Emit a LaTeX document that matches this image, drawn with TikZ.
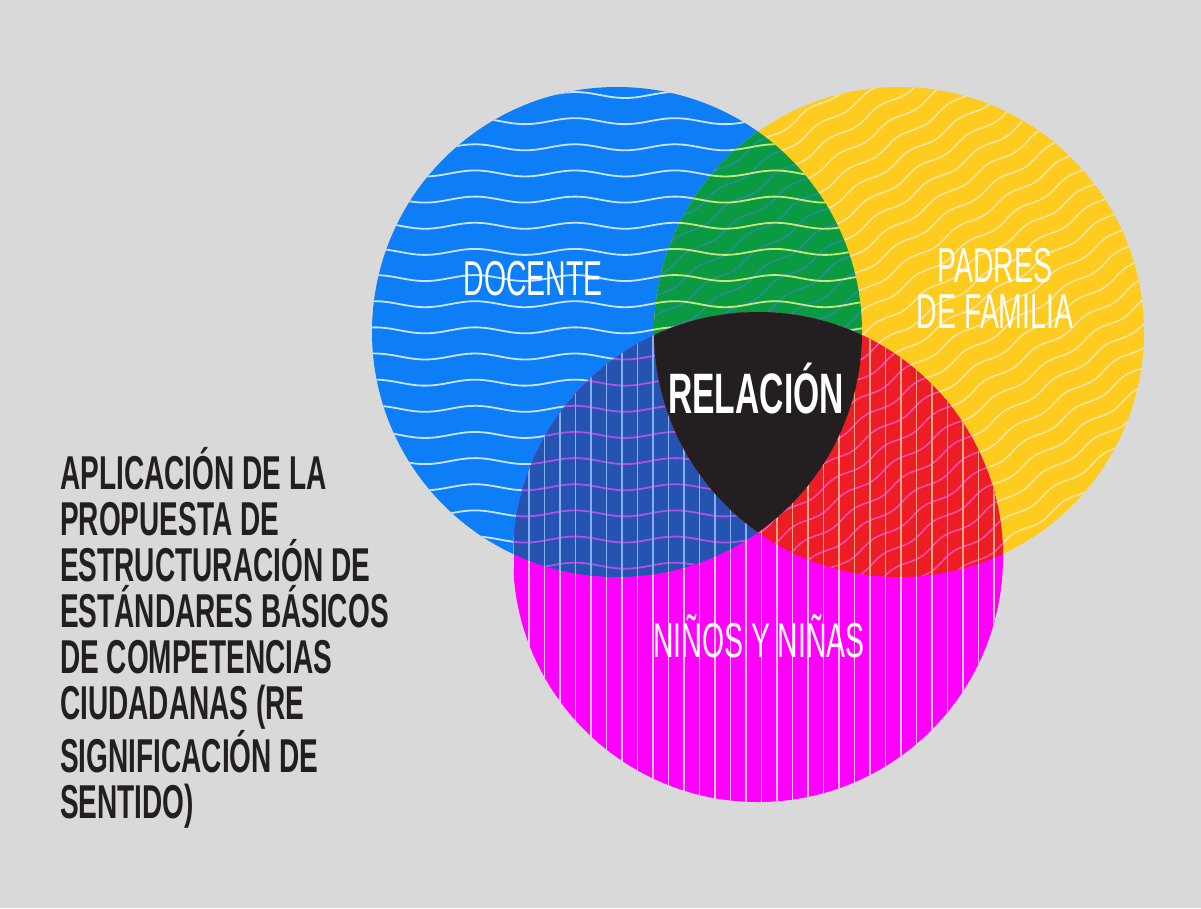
\documentclass[tikz,border=0pt]{standalone}
\usepackage{fontspec}
\newfontfamily\labelfont{Liberation Sans}[FakeStretch=0.58]
\newfontfamily\titlefont{Liberation Sans}[FakeStretch=0.59]
\definecolor{bgc}{HTML}{D9D9D9}
\definecolor{cblue}{HTML}{0D7EF5}
\definecolor{cyellow}{HTML}{FDCC1E}
\definecolor{cmag}{HTML}{FF00FF}
\definecolor{cgreen}{HTML}{0A9A42}
\definecolor{cdblue}{HTML}{2453B0}
\definecolor{cred}{HTML}{EE1C24}
\definecolor{cblack}{HTML}{231F20}
\definecolor{bluewave}{HTML}{C9E2FF}
\definecolor{yelwave}{HTML}{F6E3A6}
\definecolor{magline}{HTML}{FFC4FF}
\definecolor{greenwave}{HTML}{C4E87C}
\definecolor{greendiag}{HTML}{2A8C9A}
\definecolor{dbwave}{HTML}{B050E8}
\definecolor{dbline}{HTML}{86AEF2}
\definecolor{redwave}{HTML}{FF50B4}
\definecolor{redline}{HTML}{F8A880}
\newcommand\hwaves[1]{%
  \foreach \k in {-1,...,28} {%
    \draw[#1, line width=1.8pt] plot[smooth, samples=90, domain=360:1160] (\x, {95+26.15*\k + 3*sin(\x*3.6)});
  }}
\newcommand\dwaves[1]{%
  \begin{scope}[rotate around={33:(899,332)}]
  \foreach \k in {-26,...,26} {%
    \draw[#1, line width=1.5pt] plot[smooth, samples=140, domain=380:1420] (\x, {332+18*\k + 2.5*sin(\x*6)});
  }
  \end{scope}}
\newcommand\vlines[1]{%
  \foreach \k in {0,...,32} {%
    \draw[#1, line width=1.4pt] ({513.5+15.5*\k},300) -- ({513.5+15.5*\k},820);
  }}
\tikzset{
  lbl/.style={text=white, inner sep=0pt, font=\labelfont\fontsize{49}{46}\selectfont},
  boldlbl/.style={text=white, inner sep=0pt, font=\titlefont\bfseries\fontsize{57}{57}\selectfont},
  title/.style={text=cblack, inner sep=0pt, align=left, font=\titlefont\bfseries\fontsize{47.5}{46}\selectfont}
}
\begin{document}
\begin{tikzpicture}[x=1pt,y=-1pt]
\useasboundingbox (0,0) rectangle (1201,908);
\fill[bgc] (0,0) rectangle (1201,908);
% blue circle
\fill[cblue] (617,332) circle[radius=245];
\begin{scope}
  \clip (617,332) circle[radius=245];
  \hwaves{bluewave}
\end{scope}
% yellow circle
\fill[cyellow] (899,332) circle[radius=245];
\begin{scope}
  \clip (899,332) circle[radius=245];
  \dwaves{yelwave}
\end{scope}
% magenta circle
\fill[cmag] (758,557) circle[radius=245];
\begin{scope}
  \clip (758,557) circle[radius=245];
  \vlines{magline}
\end{scope}
% green: blue and yellow
\begin{scope}
  \clip (617,332) circle[radius=245];
  \clip (899,332) circle[radius=245];
  \fill[cgreen] (300,0) rectangle (1200,900);
  \dwaves{greendiag}
  \hwaves{greenwave}
\end{scope}
% dark blue: blue and magenta
\begin{scope}
  \clip (617,332) circle[radius=245];
  \clip (758,557) circle[radius=245];
  \fill[cdblue] (300,0) rectangle (1200,900);
  \hwaves{dbwave}
  \vlines{dbline}
\end{scope}
% red: yellow and magenta
\begin{scope}
  \clip (899,332) circle[radius=245];
  \clip (758,557) circle[radius=245];
  \fill[cred] (300,0) rectangle (1200,900);
  \dwaves{redwave}
  \vlines{redline}
\end{scope}
% black: all three
\begin{scope}
  \clip (617,332) circle[radius=245];
  \clip (899,332) circle[radius=245];
  \clip (758,557) circle[radius=245];
  \fill[cblack] (300,0) rectangle (1200,900);
\end{scope}
% labels
\node[lbl, anchor=base] (docente) at (533,295) {DOCENTE};
\node[lbl, anchor=base, align=center] (padres) at (995,328) {PADRES\\DE FAMILIA};
\node[boldlbl, anchor=base] (relacion) at (756,413) {RELACIÓN};
\node[lbl, anchor=base] (ninos) at (759,657) {NIÑOS Y NIÑAS};
\node[title, anchor=base west] (titulo) at (60,818) {APLICACIÓN DE LA\\PROPUESTA DE\\ESTRUCTURACIÓN DE\\ESTÁNDARES BÁSICOS\\DE COMPETENCIAS\\CIUDADANAS (RE\\SIGNIFICACIÓN DE\\SENTIDO)};
\end{tikzpicture}
\end{document}
